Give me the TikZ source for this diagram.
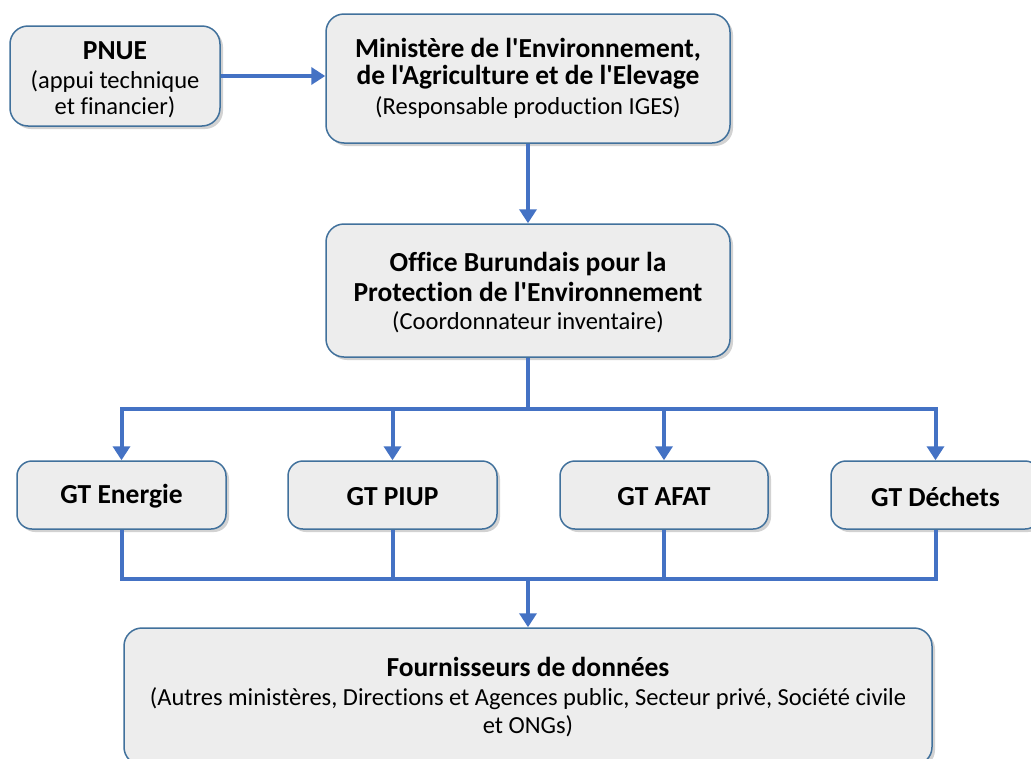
\documentclass[tikz,border=0pt]{standalone}
\usepackage{fontspec}
\setmainfont[Ligatures={NoCommon,TeXOff}]{Carlito}
\usetikzlibrary{arrows.meta,shadows}
\definecolor{boxblue}{HTML}{41719C}
\definecolor{boxfill}{HTML}{EDEDED}
\definecolor{linkblue}{HTML}{4472C4}
\newcommand\bl[1]{{\fontsize{27.5}{27}\selectfont\bfseries #1}}
\newcommand\rl[1]{{\fontsize{24.5}{27}\selectfont #1}}
\begin{document}
\begin{tikzpicture}[x=1pt,y=-1pt,
  box/.style={draw=boxblue, line width=1.5pt, fill=boxfill, rounded corners=18pt,
    drop shadow={shadow xshift=3pt, shadow yshift=-3pt, opacity=0.35},
    align=center, inner sep=0pt, font=\fontsize{24.5}{27}\selectfont},
  conn/.style={draw=linkblue, line width=4pt},
  arr/.style={-{Triangle[width=17pt,length=14pt]}}]
\useasboundingbox[fill=white] (0,0) rectangle (1031,758);
\clip (0,0) rectangle (1031,758);
\node[box, minimum width=210pt, minimum height=100pt] (pnue) at (115,76) {};
\node[align=center, inner sep=0pt, font=\fontsize{24.5}{27}\selectfont] (pnuet) at (115,80)
  {\bl{PNUE}\\[2pt]\rl{(appui technique}\\[-1pt]\rl{et financier)}};
\node[box, minimum width=404pt, minimum height=129pt] (min) at (528,78.5)
  {\bl{Ministère de l'Environnement,}\\\bl{de l'Agriculture et de l'Elevage}\\[3pt]\rl{(Responsable production IGES)}};
\node[box, minimum width=404pt, minimum height=133pt] (off) at (528,290.5) {};
\node[align=center, inner sep=0pt, font=\fontsize{24.5}{27}\selectfont] (offt) at (528,293)
  {\bl{Office Burundais pour la}\\[3pt]\bl{Protection de l'Environnement}\\[1pt]\rl{(Coordonnateur inventaire)}};
\node[box, rounded corners=15pt, minimum width=209pt, minimum height=68pt] (ge) at (121.5,495) {};
\node[box, rounded corners=15pt, minimum width=209pt, minimum height=68pt] (gp) at (392.5,495) {};
\node[box, rounded corners=15pt, minimum width=208pt, minimum height=68pt] (ga) at (664,495) {};
\node[box, rounded corners=15pt, minimum width=209pt, minimum height=68pt] (gd) at (935.5,495) {};
\node (get) at (121.5,496.5) {\bl{GT Energie}};
\node (gpt) at (392.5,496.5) {\bl{GT PIUP}};
\node (gat) at (664,496.5) {\bl{GT AFAT}};
\node (gdt) at (935.5,496.5) {\bl{GT Déchets}};
\node[box, minimum width=808pt, minimum height=137pt] (four) at (528,696.5) {};
\node[align=center, inner sep=0pt, font=\fontsize{24.5}{27}\selectfont] (fourt) at (528,697.5)
  {\bl{Fournisseurs de données}\\[2pt]\rl{(Autres ministères, Directions et Agences public, Secteur privé, Société civile}\\[1pt]\rl{et ONGs)}};
\coordinate (bus1) at (528,409);
\coordinate (bus2) at (528,579);
\draw[conn,arr] (pnue.east) -- (pnue.east -| min.west);
\draw[conn,arr] (min.south) -- (off.north);
\draw[conn] (off.south) -- (bus1);
\draw[conn,arr] (bus1) -| (ge.north);
\draw[conn,arr] (bus1) -| (gp.north);
\draw[conn,arr] (bus1) -| (ga.north);
\draw[conn,arr] (bus1) -| (gd.north);
\draw[conn] (ge.south) |- (bus2);
\draw[conn] (gp.south) |- (bus2);
\draw[conn] (ga.south) |- (bus2);
\draw[conn] (gd.south) |- (bus2);
\draw[conn,arr] (bus2) -- (four.north);
\end{tikzpicture}
\end{document}
